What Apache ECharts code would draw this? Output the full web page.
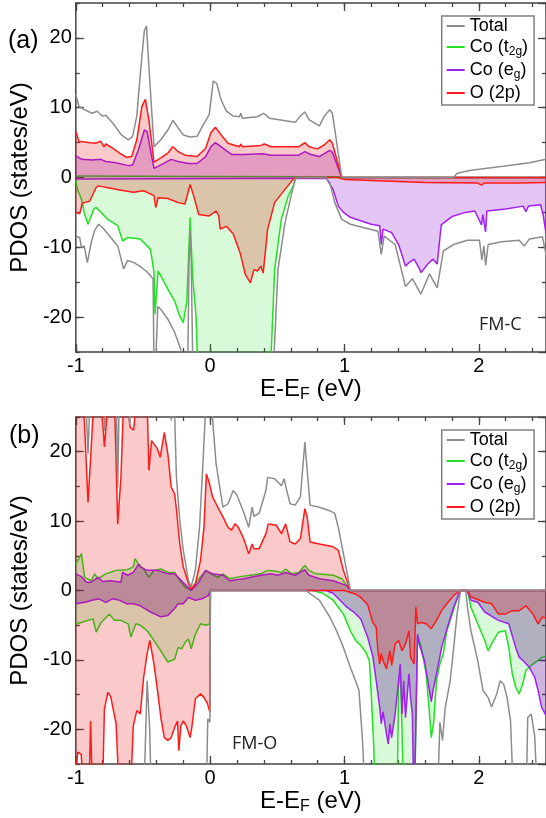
<!DOCTYPE html>
<html><head><meta charset="utf-8">
<script src="https://cdn.jsdelivr.net/npm/echarts@6/dist/echarts.min.js"></script>
<style>html,body{margin:0;padding:0;background:#fff}#c{width:546px;height:818px}</style>
</head><body><div id="c"></div>
<script>
// ---------- DATA (x in eV, y in states/eV) ----------
const legendNames = ['Total', 'Co (t2g)', 'Co (eg)', 'O (2p)'];
const panelLabels = ['(a)', '(b)'];
const phaseLabels = ['FM-C', 'FM-O'];

// Panel (a) FM-C
const aTotUp = [[-1.0,11.9],[-0.977,10.2],[-0.943,9.8],[-0.879,9.2],[-0.841,9.5],[-0.802,8.8],[-0.777,8.9],[-0.725,7.8],[-0.661,6.1],[-0.61,5.4],[-0.577,5.9],[-0.546,8.8],[-0.515,15.9],[-0.49,21],[-0.474,21.7],[-0.456,15.9],[-0.418,4.4],[-0.367,5.4],[-0.315,6.8],[-0.277,8.2],[-0.238,7.1],[-0.2,6.1],[-0.149,5.8],[-0.097,5.9],[-0.059,7.3],[-0.007,9],[0.023,13.8],[0.049,13.5],[0.082,11.1],[0.121,9.5],[0.172,8.8],[0.218,8.7],[0.228,9.2],[0.241,8.5],[0.351,8.7],[0.398,9.2],[0.441,8.5],[0.633,7.9],[0.672,8.8],[0.705,9.4],[0.736,8.3],[0.813,7.4],[0.851,8.8],[0.89,9.7],[0.91,9.2],[0.98,0],[1.81,0],[1.82,0.2],[1.84,0.6],[1.93,1.0],[2.18,1.6],[2.377,2.1],[2.5,2.6]];
const aOUp = [[-1.0,6.6],[-0.977,5.2],[-0.905,5.0],[-0.854,4.9],[-0.815,5.2],[-0.79,4.4],[-0.777,4.8],[-0.725,4.2],[-0.674,3.5],[-0.623,2.9],[-0.584,3.0],[-0.546,5.4],[-0.508,10.2],[-0.482,11.2],[-0.456,8.3],[-0.418,2.2],[-0.367,2.8],[-0.315,3.5],[-0.277,4.4],[-0.238,3.7],[-0.187,3.2],[-0.097,3.0],[-0.033,4.2],[0.005,6.4],[0.039,7.2],[0.082,6.1],[0.133,4.9],[0.218,4.4],[0.228,4.8],[0.241,4.4],[0.377,4.6],[0.403,4.8],[0.454,4.4],[0.659,4.4],[0.705,5.0],[0.736,4.4],[0.8,4.1],[0.851,4.7],[0.89,5.4],[0.91,4.9],[0.98,0],[2.5,0]];
const aEgUp = [[-1.0,3.1],[-0.956,2.6],[-0.879,2.5],[-0.815,2.6],[-0.777,2.3],[-0.7,2.1],[-0.61,1.7],[-0.577,1.8],[-0.533,4.0],[-0.49,6.8],[-0.469,6.6],[-0.449,4.4],[-0.418,1.3],[-0.367,1.8],[-0.29,2.6],[-0.238,2.3],[-0.161,2.0],[-0.097,2.0],[-0.033,3.0],[0.005,4.4],[0.039,5.0],[0.095,4.2],[0.159,3.3],[0.249,3.3],[0.39,3.4],[0.454,3.2],[0.659,3.2],[0.705,3.7],[0.749,3.3],[0.813,3.0],[0.89,3.9],[0.91,3.6],[0.98,0],[2.5,0]];
const aT2gUp = [[-1.0,0.2],[0.0,0.15],[0.96,0.1],[0.98,0],[2.5,0]];
const aT2gDn = [[-1.0,-0.4],[-0.988,-1.7],[-0.958,-3.1],[-0.938,-5.0],[-0.909,-6.7],[-0.865,-4.5],[-0.848,-4.3],[-0.762,-6.0],[-0.688,-6.9],[-0.651,-9.1],[-0.615,-8.6],[-0.52,-8.8],[-0.444,-10.3],[-0.418,-13.6],[-0.41,-19.6],[-0.387,-13.4],[-0.367,-14.1],[-0.315,-16.0],[-0.264,-17.7],[-0.226,-19.9],[-0.2,-20.8],[-0.174,-17.9],[-0.149,-5.7],[-0.131,-14.1],[-0.105,-19.9],[-0.085,-32],[0.44,-32],[0.48,-13.2],[0.53,-6.0],[0.582,-2.6],[0.62,-1.2],[0.64,0],[2.5,0]];
const aODn = [[-1.0,-5.0],[-0.971,-5.2],[-0.953,-3.8],[-0.938,-3.6],[-0.897,-3.4],[-0.872,-2.4],[-0.848,-1.4],[-0.831,-1.2],[-0.75,-1.5],[-0.674,-1.8],[-0.572,-2.1],[-0.495,-1.9],[-0.418,-2.6],[-0.405,-4.3],[-0.387,-2.9],[-0.315,-3.0],[-0.238,-3.6],[-0.187,-3.8],[-0.149,-1.0],[-0.123,-2.6],[-0.085,-5.3],[-0.007,-5.5],[0.044,-4.8],[0.064,-5.5],[0.075,-7.4],[0.121,-7.0],[0.172,-8.1],[0.223,-10.8],[0.262,-13.9],[0.3,-15.1],[0.326,-13.2],[0.351,-13.4],[0.377,-12.7],[0.395,-13.7],[0.428,-7.4],[0.48,-3.6],[0.557,-1.7],[0.621,-0.2],[0.646,0],[0.95,0],[1.0,-0.3],[1.3,-0.5],[1.6,-0.7],[1.99,-0.8],[2.02,-1.1],[2.04,-0.8],[2.3,-0.8],[2.5,-0.7]];
const aEgDn = [[-1.0,-0.2],[0.864,-0.1],[0.915,-1.7],[0.954,-4.1],[0.992,-5.0],[1.044,-5.7],[1.121,-6.2],[1.198,-6.7],[1.262,-6.9],[1.274,-9.6],[1.287,-7.4],[1.351,-7.9],[1.403,-9.6],[1.454,-12.7],[1.48,-12.2],[1.518,-11.7],[1.556,-13.0],[1.569,-13.6],[1.587,-13.2],[1.62,-12.4],[1.659,-11.7],[1.69,-12.4],[1.72,-6.8],[1.8,-5.6],[1.9,-5.0],[1.97,-4.8],[2.02,-6.8],[2.03,-5.3],[2.05,-7.8],[2.06,-4.8],[2.2,-4.5],[2.33,-4.1],[2.35,-4.9],[2.37,-4.1],[2.46,-3.9],[2.48,-5.5],[2.5,-8.0]];
const aTotDn = [[-1.0,-8.4],[-0.971,-8.6],[-0.958,-10.0],[-0.938,-9.8],[-0.914,-12.2],[-0.885,-9.3],[-0.86,-7.6],[-0.848,-7.8],[-0.831,-6.7],[-0.799,-7.2],[-0.688,-9.8],[-0.644,-13.1],[-0.615,-11.9],[-0.566,-12.2],[-0.517,-12.8],[-0.47,-13.5],[-0.425,-14.5],[-0.415,-32],[-0.39,-18.5],[-0.367,-18.9],[-0.315,-20.3],[-0.264,-22.2],[-0.226,-24.2],[-0.2,-26],[-0.17,-32],[-0.157,-12],[-0.149,-7.6],[-0.141,-12],[-0.125,-32],[0.46,-32],[0.505,-13.2],[0.557,-6.5],[0.608,-2.2],[0.633,-0.2],[0.65,0],[0.86,0],[0.89,-0.7],[0.928,-3.6],[0.98,-6.0],[1.044,-6.7],[1.146,-7.2],[1.249,-7.7],[1.274,-11.0],[1.295,-8.4],[1.377,-9.6],[1.454,-15.6],[1.505,-14.5],[1.569,-16.7],[1.633,-13.8],[1.69,-15.8],[1.736,-10.5],[1.813,-9.6],[1.915,-9.0],[2.005,-9.0],[2.023,-11.8],[2.038,-9.8],[2.051,-12.6],[2.069,-9.6],[2.172,-9.2],[2.3,-9.0],[2.339,-9.8],[2.377,-8.8],[2.474,-8.5],[2.5,-11]];

// Panel (b) FM-O
const bTotUp = [[-1.0,30],[-0.93,30],[-0.909,19.7],[-0.89,30],[-0.79,30],[-0.785,23],[-0.775,30],[-0.7,30],[-0.688,14.9],[-0.675,30],[-0.62,30],[-0.6,24],[-0.58,30],[-0.3,30],[-0.29,24.5],[-0.28,30],[-0.265,26],[-0.251,16.3],[-0.226,10.1],[-0.2,5.8],[-0.161,1.4],[-0.141,0.5],[-0.11,2.9],[-0.079,9.1],[-0.059,16.3],[-0.038,24.5],[-0.02,30],[0.0,30],[0.023,23.5],[0.044,18.3],[0.095,12.0],[0.133,12.5],[0.172,14.4],[0.198,13.8],[0.249,11.3],[0.287,9.1],[0.3,9.3],[0.313,12.0],[0.326,10.7],[0.364,11.1],[0.415,14.4],[0.428,16.3],[0.48,16.1],[0.531,15.1],[0.551,16.1],[0.569,14.5],[0.595,12.5],[0.633,12.3],[0.672,13.5],[0.705,21.4],[0.744,12.3],[0.813,12.0],[0.89,11.5],[0.928,11.1],[0.954,9.1],[0.992,5.3],[1.044,0],[2.5,0]];
const bOUp = [[-1.0,30],[-0.95,28],[-0.935,24],[-0.909,12.7],[-0.89,19],[-0.87,26],[-0.85,30],[-0.81,27],[-0.787,20.7],[-0.765,26],[-0.74,30],[-0.71,26],[-0.688,9.6],[-0.664,16.3],[-0.645,27],[-0.62,28],[-0.595,23.5],[-0.57,23.1],[-0.55,27],[-0.47,28],[-0.456,17.3],[-0.436,21.6],[-0.392,20.4],[-0.372,19.2],[-0.341,22.8],[-0.315,19.7],[-0.29,14.9],[-0.264,13.9],[-0.25,11.5],[-0.226,6.7],[-0.2,3.4],[-0.161,1.0],[-0.141,0.2],[-0.11,1.0],[-0.072,4.3],[-0.046,9.1],[-0.028,16.8],[-0.008,15.6],[0.018,13.5],[0.057,12.0],[0.095,10.6],[0.133,9.1],[0.159,8.7],[0.185,9.6],[0.21,9.1],[0.249,7.5],[0.287,5.3],[0.3,5.2],[0.313,6.7],[0.326,6.0],[0.364,6.0],[0.415,8.2],[0.433,9.6],[0.492,9.4],[0.531,8.2],[0.562,9.6],[0.595,7.0],[0.633,6.7],[0.672,7.5],[0.705,11.8],[0.723,10.5],[0.744,7.0],[0.813,6.7],[0.916,6.3],[0.954,5.8],[0.992,2.9],[1.044,0],[2.5,0]];
const bT2gUp = [[-1.0,3.8],[-0.958,5.3],[-0.934,1.9],[-0.885,1.4],[-0.86,2.4],[-0.835,1.7],[-0.777,2.4],[-0.7,2.9],[-0.615,3.0],[-0.572,3.4],[-0.559,4.6],[-0.533,3.8],[-0.495,3.1],[-0.456,1.9],[-0.418,2.9],[-0.367,3.1],[-0.315,2.6],[-0.264,2.6],[-0.226,1.4],[-0.187,0.5],[-0.141,0],[-0.097,1.4],[-0.033,2.9],[0.005,2.4],[0.057,1.9],[0.095,2.4],[0.146,1.7],[0.223,2.0],[0.3,2.2],[0.377,2.4],[0.428,2.9],[0.48,2.8],[0.531,2.6],[0.562,3.1],[0.608,2.4],[0.659,2.6],[0.705,3.6],[0.736,2.9],[0.787,2.4],[0.916,2.2],[0.98,1.7],[1.044,0],[2.5,0]];
const bEgUp = [[-1.0,2.4],[-0.958,2.0],[-0.921,1.2],[-0.885,1.2],[-0.835,1.9],[-0.8,1.3],[-0.737,1.4],[-0.664,1.2],[-0.651,2.6],[-0.615,2.2],[-0.572,2.6],[-0.533,3.8],[-0.52,3.4],[-0.469,2.9],[-0.392,2.9],[-0.315,2.4],[-0.264,2.4],[-0.213,1.4],[-0.141,0],[-0.085,1.2],[-0.033,2.9],[0.018,2.4],[0.095,2.2],[0.146,1.4],[0.249,1.7],[0.377,2.2],[0.454,2.4],[0.505,2.2],[0.562,2.6],[0.633,2.2],[0.705,3.0],[0.736,2.2],[0.813,1.7],[0.916,1.4],[1.018,0.7],[1.044,0],[2.5,0]];
const bT2gDn = [[-1.0,-4.8],[-0.958,-4.6],[-0.909,-4.3],[-0.872,-4.1],[-0.848,-6.0],[-0.811,-4.6],[-0.75,-3.4],[-0.713,-4.3],[-0.664,-4.3],[-0.61,-4.8],[-0.59,-6.7],[-0.553,-4.8],[-0.52,-5.0],[-0.469,-5.8],[-0.418,-7.2],[-0.367,-8.7],[-0.315,-10.3],[-0.264,-9.9],[-0.238,-8.2],[-0.213,-8.4],[-0.187,-7.5],[-0.161,-7.0],[-0.141,-8.4],[-0.11,-6.3],[-0.072,-4.8],[-0.033,-5.0],[-0.002,-4.8],[0.002,0],[0.762,0],[0.839,-0.4],[0.915,-1.4],[0.992,-3.4],[1.044,-5.8],[1.082,-7.2],[1.121,-7.9],[1.159,-8.9],[1.185,-10.1],[1.198,-14.4],[1.218,-22.6],[1.231,-32],[1.39,-32],[1.403,-14],[1.415,-11],[1.428,-20],[1.441,-32],[1.52,-32],[1.544,-6.5],[1.569,-8],[1.608,-12],[1.633,-17.8],[1.646,-21.2],[1.664,-19],[1.685,-13],[1.71,-10.6],[1.736,-9.1],[1.762,-5.8],[1.787,-4.3],[1.826,-1.9],[1.864,0],[1.915,0],[1.941,-2.4],[1.992,-4.8],[2.044,-7.2],[2.069,-8.7],[2.095,-7.7],[2.146,-6.0],[2.197,-5.8],[2.223,-8.2],[2.249,-12],[2.274,-13.9],[2.3,-14.9],[2.326,-13.5],[2.351,-11.5],[2.403,-10.6],[2.474,-9.6],[2.5,-9.5]];
const bEgDn = [[-1.0,-1.9],[-0.931,-1.7],[-0.879,-1.4],[-0.828,-1.2],[-0.777,-1.7],[-0.726,-1.2],[-0.674,-1.4],[-0.623,-1.9],[-0.572,-1.9],[-0.52,-2.2],[-0.444,-3.1],[-0.367,-3.8],[-0.315,-3.6],[-0.264,-2.6],[-0.238,-1.9],[-0.2,-1.9],[-0.161,-1.0],[-0.11,-1.4],[-0.059,-1.2],[-0.012,-0.7],[0.002,0],[0.864,0],[0.915,-0.4],[0.967,-1.4],[1.018,-2.4],[1.069,-3.1],[1.121,-4.1],[1.172,-6.7],[1.21,-9.4],[1.236,-13.0],[1.262,-16.8],[1.274,-19.2],[1.287,-17.5],[1.313,-20.7],[1.326,-22.1],[1.338,-19.2],[1.351,-21.2],[1.377,-17.8],[1.403,-13.0],[1.415,-10.6],[1.428,-17.8],[1.441,-13],[1.454,-18.3],[1.48,-12.0],[1.492,-15.4],[1.505,-17.8],[1.518,-32],[1.531,-32],[1.544,-6.3],[1.556,-7.7],[1.595,-10.1],[1.62,-13],[1.646,-16.0],[1.659,-14.4],[1.685,-12],[1.723,-8.2],[1.774,-4.8],[1.813,-2.4],[1.851,-0.5],[1.864,0],[1.915,0],[1.941,-1.4],[1.992,-1.7],[2.044,-3.1],[2.146,-4.3],[2.223,-4.8],[2.274,-8.2],[2.3,-9.6],[2.339,-10.3],[2.377,-11.1],[2.416,-12.5],[2.441,-14.4],[2.467,-16.8],[2.5,-18]];
const bODn = [[-1.0,-26],[-0.985,-23.3],[-0.96,-23.6],[-0.945,-28],[-0.9,-28],[-0.89,-18.8],[-0.878,-28],[-0.8,-28],[-0.787,-17.1],[-0.762,-14.7],[-0.74,-15.3],[-0.725,-16.8],[-0.7,-19.2],[-0.68,-28],[-0.59,-28],[-0.572,-19.5],[-0.546,-17.3],[-0.52,-17.8],[-0.495,-12.5],[-0.469,-9.1],[-0.449,-7.2],[-0.418,-10.6],[-0.392,-14.4],[-0.367,-18.3],[-0.341,-21.2],[-0.315,-21.6],[-0.29,-21.2],[-0.264,-19.7],[-0.243,-18.8],[-0.233,-23.1],[-0.218,-19.5],[-0.2,-18.8],[-0.174,-19.7],[-0.149,-21.2],[-0.136,-19.7],[-0.11,-15.6],[-0.072,-14.9],[-0.046,-15.4],[-0.02,-16.3],[-0.002,-17.5],[0.002,0],[1.0,0],[1.08,-0.5],[1.121,-1.0],[1.172,-2.0],[1.21,-4.6],[1.236,-5.3],[1.249,-8.7],[1.262,-10.6],[1.274,-9.1],[1.287,-10.1],[1.313,-11.3],[1.338,-8.7],[1.351,-10.8],[1.377,-7.7],[1.403,-7.2],[1.428,-8.7],[1.454,-7.7],[1.48,-5.8],[1.492,-9.6],[1.518,-10.6],[1.531,-2.4],[1.544,-4.8],[1.569,-4.6],[1.608,-4.8],[1.646,-5.5],[1.685,-4.3],[1.723,-2.9],[1.762,-1.9],[1.813,-0.7],[1.864,0],[1.915,0],[1.941,-0.9],[2.044,-1.7],[2.095,-1.9],[2.146,-3.4],[2.197,-3.4],[2.249,-2.9],[2.3,-2.9],[2.351,-2.2],[2.403,-3.4],[2.441,-4.8],[2.474,-3.8],[2.5,-4.0]];
const bTotDn = [[-1.0,-32],[-0.5,-32],[-0.485,-24],[-0.469,-13.0],[-0.45,-20],[-0.435,-32],[-0.03,-32],[-0.018,-18.5],[-0.002,-19],[0.002,0],[0.71,0],[0.813,-1.4],[0.89,-3.8],[0.941,-5.8],[0.992,-8.2],[1.044,-11.1],[1.082,-13],[1.108,-14.4],[1.134,-21.6],[1.159,-32],[1.69,-32],[1.71,-19],[1.73,-21.6],[1.749,-17],[1.787,-13],[1.813,-8.2],[1.838,-3.4],[1.864,0],[1.903,0],[1.915,-2.4],[1.941,-5.8],[1.992,-10.1],[2.031,-14.4],[2.069,-15.4],[2.095,-16.8],[2.133,-14.9],[2.159,-13],[2.185,-13.5],[2.21,-15.4],[2.236,-18.8],[2.262,-32],[2.351,-32],[2.364,-18.3],[2.39,-17.8],[2.416,-21],[2.441,-32],[2.5,-32]];

// ---------- STYLE ----------
const FONT = 'Liberation Sans, Arial, Helvetica, sans-serif';
const AX = '#444';
const COL = {tot: '#8c8c8c', t2g: '#22e022', eg: '#a020f0', o: '#ff1a1a'};
const FILLS = [
  {t2g: 'rgba(0,220,0,0.22)', eg: 'rgba(130,0,210,0.32)', o: 'rgba(230,0,0,0.30)'},
  {t2g: 'rgba(0,220,0,0.22)', eg: 'rgba(80,0,140,0.42)', o: 'rgba(230,0,0,0.30)'}
];
const grids = [
  {left: 74.3, top: 3, width: 476, height: 349},
  {left: 74.3, top: 417, width: 476, height: 347}
];
const xNameGap = [15, 15];

const subRich = (big, small) => ({
  n: {fontSize: big, lineHeight: big + 4, fontFamily: FONT, color: '#000'},
  s: {fontSize: small, lineHeight: small, verticalAlign: 'bottom', fontFamily: FONT, color: '#000'}
});
const hiddenLine = {show: false, onZero: false};

function xAxesFor(g) {
  const base = {gridIndex: g, type: 'value', min: -1, max: 2.5, splitLine: {show: false}, axisLine: hiddenLine};
  const tick = (len) => ({inside: true, length: len, lineStyle: {color: AX, width: 1.3}});
  return [
    Object.assign({}, base, {position: 'bottom', interval: 1, axisTick: tick(8),
      axisLabel: {margin: 4, fontSize: 20, color: '#000', fontFamily: FONT, showMaxLabel: false},
      name: '{n|E-E}{s|F}{n| (eV)}', nameLocation: 'middle', nameGap: xNameGap[g],
      nameTextStyle: {rich: subRich(24, 16)}}),
    Object.assign({}, base, {position: 'bottom', interval: 0.2, axisTick: tick(4), axisLabel: {show: false}}),
    Object.assign({}, base, {position: 'top', interval: 1, axisTick: tick(8), axisLabel: {show: false}}),
    Object.assign({}, base, {position: 'top', interval: 0.2, axisTick: tick(4), axisLabel: {show: false}})
  ];
}
function yAxesFor(g) {
  const base = {gridIndex: g, type: 'value', min: -25, max: 25, splitLine: {show: false}, axisLine: hiddenLine};
  const tick = (len) => ({inside: true, length: len, lineStyle: {color: AX, width: 1.3}});
  return [
    Object.assign({}, base, {position: 'left', axisTick: tick(8),
      axisLabel: {margin: 4, fontSize: 20, color: '#000', fontFamily: FONT, showMinLabel: false, showMaxLabel: false},
      name: 'PDOS (states/eV)', nameLocation: 'middle', nameGap: 34,
      nameTextStyle: {fontSize: 24, fontFamily: FONT, color: '#000'}}),
    Object.assign({}, base, {position: 'left', interval: 5, axisTick: tick(4), axisLabel: {show: false}}),
    Object.assign({}, base, {position: 'right', axisTick: tick(8), axisLabel: {show: false}}),
    Object.assign({}, base, {position: 'right', interval: 5, axisTick: tick(4), axisLabel: {show: false}})
  ];
}
function S(name, data, g, color, fill, z) {
  const s = {type: 'line', name, data, xAxisIndex: g * 4, yAxisIndex: g * 4, symbol: 'none', showSymbol: false,
    lineStyle: {color, width: 1.5}, itemStyle: {color}, z, silent: true, clip: true, emphasis: {disabled: true}};
  if (fill) s.areaStyle = {color: fill, origin: 'auto'};
  return s;
}
function panelSeries(g, d) {
  const F = FILLS[g];
  return [
    S(legendNames[1], d.t2gUp, g, COL.t2g, F.t2g, 2),
    S(legendNames[1], d.t2gDn, g, COL.t2g, F.t2g, 2),
    S(legendNames[2], d.egUp, g, COL.eg, F.eg, 3),
    S(legendNames[2], d.egDn, g, COL.eg, F.eg, 3),
    S(legendNames[3], d.oUp, g, COL.o, F.o, 4),
    S(legendNames[3], d.oDn, g, COL.o, F.o, 4),
    S(legendNames[0], d.totUp, g, COL.tot, null, 5),
    S(legendNames[0], d.totDn, g, COL.tot, null, 5)
  ];
}
const legendFmt = (n) => ({'Co (t2g)': '{n|Co (t}{s|2g}{n|)}', 'Co (eg)': '{n|Co (e}{s|g}{n|)}'}[n] || '{n|' + n + '}');
function legendAt(top) {
  return {orient: 'vertical', left: 441.7, top, data: legendNames, icon: 'rect', itemWidth: 18, itemHeight: 2,
    itemGap: 3, padding: [1, 6, 3, 5], borderColor: '#808080', borderWidth: 1.5, backgroundColor: '#fff',
    selectedMode: false, formatter: legendFmt, textStyle: {rich: subRich(18, 12)}};
}

const chart = echarts.init(document.getElementById('c'), null, {renderer: 'canvas'});
chart.setOption({
  animation: false,
  backgroundColor: '#fff',
  grid: grids.map(g => Object.assign({show: true, borderColor: AX, borderWidth: 1.5, backgroundColor: 'transparent'}, g)),
  xAxis: xAxesFor(0).concat(xAxesFor(1)),
  yAxis: yAxesFor(0).concat(yAxesFor(1)),
  legend: [legendAt(16), legendAt(430)],
  series: panelSeries(0, {t2gUp: aT2gUp, t2gDn: aT2gDn, egUp: aEgUp, egDn: aEgDn, oUp: aOUp, oDn: aODn, totUp: aTotUp, totDn: aTotDn})
    .concat(panelSeries(1, {t2gUp: bT2gUp, t2gDn: bT2gDn, egUp: bEgUp, egDn: bEgDn, oUp: bOUp, oDn: bODn, totUp: bTotUp, totDn: bTotDn})),
  graphic: [
    {type: 'text', x: 8, y: 41, z: 10, style: {text: panelLabels[0], fontSize: 25, fontFamily: FONT, fill: '#000', verticalAlign: 'middle'}},
    {type: 'text', x: 9, y: 436, z: 10, style: {text: panelLabels[1], fontSize: 25, fontFamily: FONT, fill: '#000', verticalAlign: 'middle'}},
    {type: 'text', x: 479, y: 325, z: 10, style: {text: phaseLabels[0], fontSize: 18, fontFamily: 'Open Sans, sans-serif', fill: '#222', verticalAlign: 'middle'}},
    {type: 'text', x: 232, y: 744, z: 10, style: {text: phaseLabels[1], fontSize: 18, fontFamily: 'Open Sans, sans-serif', fill: '#222', verticalAlign: 'middle'}}
  ]
});
</script>
</body></html>
